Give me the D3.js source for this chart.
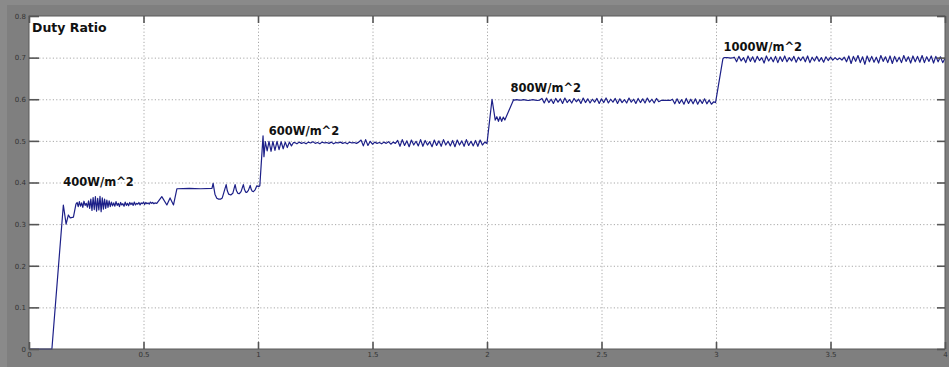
<!DOCTYPE html>
<html>
<head>
<meta charset="utf-8">
<script src="https://cdn.jsdelivr.net/npm/d3@7"></script>
<style>
  html, body { margin: 0; padding: 0; background: #7f7f7f; }
  svg { display: block; }
</style>
</head>
<body>
<svg id="chart" width="949" height="367"></svg>
<script>
// ---------------- DATA ----------------
const xTicks = [0, 0.5, 1, 1.5, 2, 2.5, 3, 3.5, 4];
const xTickLabels = ["0", "0.5", "1", "1.5", "2", "2.5", "3", "3.5", "4"];
const yTicks = [0, 0.1, 0.2, 0.3, 0.4, 0.5, 0.6, 0.7, 0.8];
const yTickLabels = ["0", "0.1", "0.2", "0.3", "0.4", "0.5", "0.6", "0.7", "0.8"];
const chartTitle = "Duty Ratio";

const irradianceLabels = ["400W/m^2", "600W/m^2", "800W/m^2", "1000W/m^2"];
const labelTime = [0.15, 1.047, 2.103, 3.033];
const labelDuty = [0.392, 0.514, 0.617, 0.715];

// start-up transient (explicit samples)
const startupTime = [0, 0.1, 0.15, 0.162, 0.172, 0.18, 0.194, 0.205];
const startupDuty = [0, 0, 0.346, 0.300, 0.322, 0.315, 0.317, 0.348];

// ripple at 400 W/m^2 (uniform samples)
const ripple400Start = 0.21, ripple400Step = 0.005;
const ripple400 = [
  0.352,0.342,0.354,0.343,0.351,0.340,0.355,0.345,0.350,0.341,0.356,
  0.338,0.360,0.333,0.364,0.335,0.366,0.331,0.362,0.334,0.367,0.330,0.363,0.336,0.360,0.338,0.358,0.340,0.356,
  0.342,0.353,0.344,0.351,0.343,0.354,0.345,0.350,0.342,0.352,0.346,0.349,0.343,0.353,0.345,0.350,0.344,0.352,0.347,0.351,
  0.345,0.353,0.346,0.350,0.348,0.352,0.346,0.351,0.349,0.353,0.347,0.352,0.349,0.351,0.348,0.353,0.350,0.352,0.349,0.351
];

// late 400 W/m^2 tracking (explicit samples)
const track400Time = [0.558,0.58,0.602,0.616,0.631,0.646,0.70,0.75,0.799,0.804,0.812,0.82,0.828,0.836,0.844,0.852,
  0.861,0.866,0.872,0.881,0.89,0.90,0.906,0.912,0.918,0.926,0.936,0.941,0.946,0.951,0.958,0.966,0.97,0.975,0.98,0.988,0.995,1.003];
const track400Duty = [0.350,0.366,0.346,0.363,0.346,0.385,0.386,0.385,0.386,0.398,0.372,0.362,0.360,0.360,0.363,0.378,
  0.395,0.380,0.372,0.370,0.374,0.395,0.380,0.374,0.373,0.378,0.395,0.383,0.377,0.376,0.381,0.393,0.384,0.379,0.378,0.383,0.392,0.390];

// step to 600 W/m^2
const step600Time = [1.008,1.022,1.026,1.032,1.04,1.048,1.057,1.065,1.074,1.083,1.092,1.101,1.11,1.119,1.128,1.137,1.146,1.155];
const step600Duty = [0.392,0.512,0.462,0.498,0.476,0.499,0.475,0.499,0.477,0.499,0.479,0.498,0.481,0.497,0.484,0.497,0.488,0.496];

const ripple600Start = 1.16, ripple600Step = 0.01;
const ripple600 = [
  0.496,0.493,0.497,0.494,0.496,0.493,0.497,0.495,0.498,0.494,0.496,0.493,0.497,0.495,0.496,0.494,0.497,0.493,0.496,0.495,
  0.497,0.494,0.496,0.493,0.497,0.495,0.496,0.494,0.497,
  0.502,0.488,0.503,0.489,0.499,0.492,0.497,0.494,0.496,0.493,0.497,0.494,0.498,0.492,0.497,0.494,
  0.501,0.487,0.503,0.489,0.500,0.486,0.502,0.490,0.499,0.488,0.503,0.487,0.501,0.490,0.498,0.486,0.502,0.489,0.500,0.487,
  0.503,0.490,0.499,0.488,0.501,0.486,0.502,0.490,0.500,0.487,0.503,0.489,0.499,0.488,0.501,0.487,0.502,0.490,0.497
];

// step to 800 W/m^2
const step800Time = [2.0,2.022,2.036,2.043,2.05,2.057,2.064,2.071,2.078,2.116];
const step800Duty = [0.494,0.600,0.550,0.558,0.547,0.558,0.547,0.557,0.550,0.599];

const ripple800Start = 2.12, ripple800Step = 0.01;
const ripple800 = [
  0.598,0.599,0.598,0.598,0.599,0.598,0.597,0.598,0.599,0.598,0.597,0.598,
  0.602,0.591,0.603,0.592,0.600,0.590,0.602,0.593,0.601,0.590,0.603,0.592,0.599,0.591,0.602,0.594,0.600,0.590,0.603,0.592,
  0.601,0.591,0.600,0.593,0.602,0.590,0.601,0.592,0.603,0.591,0.600,0.593,0.602,0.590,0.601,0.592,0.599,0.591,0.603,0.593,
  0.600,0.590,0.602,0.592,0.601,0.591,0.603,0.593,0.600,0.591,0.602,0.594,
  0.597,0.598,0.597,0.598,0.597,
  0.600,0.589,0.601,0.590,0.599,0.588,0.602,0.590,0.600,0.589,0.601,0.588,0.599,0.590,0.601,0.589,0.598,0.588,0.594
];

// step to 1000 W/m^2
const step1000Time = [2.998, 3.03, 3.035, 3.05, 3.065, 3.075];
const step1000Duty = [0.592, 0.697, 0.700, 0.700, 0.699, 0.700];

const ripple1000Start = 3.08, ripple1000Step = 0.01;
const ripple1000 = [
  0.701,0.690,0.703,0.692,0.700,0.688,0.704,0.691,0.702,0.689,
  0.703,0.693,0.700,0.687,0.704,0.692,0.701,0.690,0.703,0.688,
  0.702,0.691,0.704,0.690,0.700,0.692,0.703,0.689,0.701,0.693,
  0.702,0.690,0.704,0.688,0.701,0.692,0.703,0.691,0.700,0.689,
  0.702,0.693,0.701,0.694,0.700,0.695,0.699,0.694,0.701,0.690,
  0.704,0.686,0.703,0.691,0.705,0.688,0.702,0.684,0.704,0.690,
  0.703,0.689,0.701,0.687,0.705,0.691,0.702,0.688,0.704,0.686,
  0.703,0.690,0.701,0.688,0.705,0.691,0.702,0.687,0.704,0.690,
  0.703,0.689,0.705,0.688,0.702,0.691,0.704,0.687,0.703,0.690,
  0.702,0.688,0.698
];

// ---------------- BUILD SERIES ----------------
function explicit(ts, vs) { return ts.map((t, i) => ({ t: t, v: vs[i] })); }
function sampled(start, step, vs) { return vs.map((v, i) => ({ t: +(start + i * step).toFixed(4), v: v })); }

const trace = [].concat(
  explicit(startupTime, startupDuty),
  sampled(ripple400Start, ripple400Step, ripple400),
  explicit(track400Time, track400Duty),
  explicit(step600Time, step600Duty),
  sampled(ripple600Start, ripple600Step, ripple600),
  explicit(step800Time, step800Duty),
  sampled(ripple800Start, ripple800Step, ripple800),
  explicit(step1000Time, step1000Duty),
  sampled(ripple1000Start, ripple1000Step, ripple1000)
);

// ---------------- DRAW ----------------
const W = 949, H = 367;
const plot = { left: 29, right: 945, top: 16, bottom: 349 };
const svg = d3.select("#chart");

svg.append("rect").attr("x", 0).attr("y", 0).attr("width", W).attr("height", H).attr("fill", "#7f7f7f");
svg.append("rect").attr("x", 0).attr("y", 0).attr("width", W).attr("height", 5).attr("fill", "#8a8a8a");
svg.append("rect").attr("x", 0).attr("y", 0).attr("width", 7).attr("height", H).attr("fill", "#8a8a8a");

const x = d3.scaleLinear().domain([0, 4]).range([plot.left, plot.right]);
const y = d3.scaleLinear().domain([0, 0.8]).range([plot.bottom, plot.top]);

svg.append("rect")
  .attr("x", plot.left).attr("y", plot.top)
  .attr("width", plot.right - plot.left).attr("height", plot.bottom - plot.top)
  .attr("fill", "#ffffff");

// grid
const grid = svg.append("g").attr("class", "grid");
grid.append("g")
  .attr("transform", `translate(0,${plot.bottom})`)
  .call(d3.axisBottom(x).tickValues(xTicks.slice(1, -1)).tickSize(-(plot.bottom - plot.top)).tickFormat(""));
grid.append("g")
  .attr("transform", `translate(${plot.left},0)`)
  .call(d3.axisLeft(y).tickValues(yTicks.slice(1, -1)).tickSize(-(plot.right - plot.left)).tickFormat(""));
grid.selectAll(".domain").remove();
grid.selectAll("line")
  .attr("stroke", "#a8a8a8").attr("stroke-width", 1).attr("stroke-dasharray", "1.2,2.2");

// signal
const line = d3.line().x(d => x(d.t)).y(d => y(d.v));
svg.append("path")
  .datum(trace)
  .attr("d", line)
  .attr("fill", "none")
  .attr("stroke", "#1d2088")
  .attr("stroke-width", 1.2)
  .attr("stroke-linejoin", "round");

// frame
svg.append("rect")
  .attr("x", plot.left).attr("y", plot.top)
  .attr("width", plot.right - plot.left).attr("height", plot.bottom - plot.top)
  .attr("fill", "none").attr("stroke", "#5a5a5a").attr("stroke-width", 1);

// axes with inward ticks
function styleAxis(g) {
  g.select(".domain").remove();
  g.selectAll("line").attr("stroke", "#555").attr("stroke-width", 1.6);
  g.selectAll("text").attr("fill", "#333").style("font-family", "DejaVu Sans").style("font-size", "7px");
}
svg.append("g")
  .attr("transform", `translate(0,${plot.bottom})`)
  .call(d3.axisBottom(x).tickValues(xTicks).tickSize(-7).tickPadding(3).tickFormat((d, i) => xTickLabels[i]))
  .call(styleAxis);
svg.append("g")
  .attr("transform", `translate(0,${plot.top})`)
  .call(d3.axisTop(x).tickValues(xTicks).tickSize(-7).tickFormat(""))
  .call(styleAxis);
svg.append("g")
  .attr("transform", `translate(${plot.left},0)`)
  .call(d3.axisLeft(y).tickValues(yTicks).tickSize(-10).tickPadding(3).tickFormat((d, i) => yTickLabels[i]))
  .call(styleAxis);
svg.append("g")
  .attr("transform", `translate(${plot.right},0)`)
  .call(d3.axisRight(y).tickValues(yTicks).tickSize(-8).tickFormat(""))
  .call(styleAxis);

// title
svg.append("text")
  .attr("x", plot.left + 3).attr("y", 32)
  .attr("fill", "#111")
  .style("font-family", "DejaVu Sans").style("font-weight", "bold").style("font-size", "12.5px")
  .text(chartTitle);

// irradiance annotations
svg.append("g").selectAll("text")
  .data(irradianceLabels)
  .join("text")
  .attr("x", (d, i) => x(labelTime[i]))
  .attr("y", (d, i) => y(labelDuty[i]))
  .attr("fill", "#111")
  .style("font-family", "DejaVu Sans").style("font-weight", "bold").style("font-size", "11.5px")
  .text(d => d);
</script>
</body>
</html>
